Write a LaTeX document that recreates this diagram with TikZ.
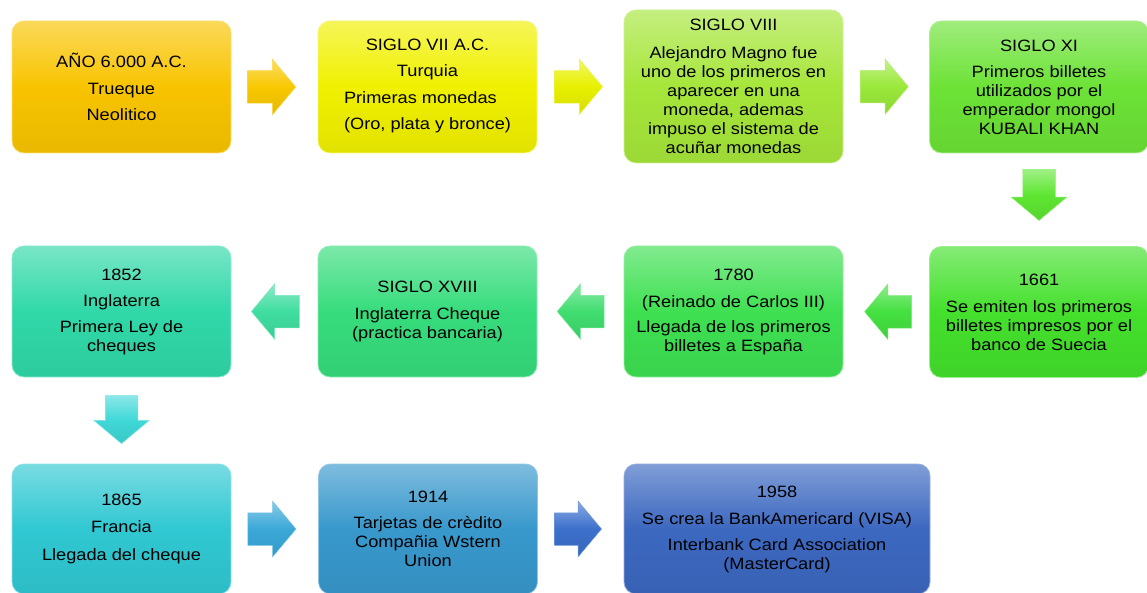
\documentclass[tikz,border=0pt]{standalone}
\usepackage{fontspec}
\setmainfont{Liberation Sans}[FakeStretch=1.11]
\usetikzlibrary{shapes.arrows,calc}
\definecolor{c1}{HTML}{F8C400}
\definecolor{c2}{HTML}{F0F000}
\definecolor{c3}{HTML}{A6E63A}
\definecolor{c4}{HTML}{6CE236}
\definecolor{c5}{HTML}{44E02C}
\definecolor{c6}{HTML}{3EE052}
\definecolor{c7}{HTML}{36DC7C}
\definecolor{c8}{HTML}{30D8A8}
\definecolor{c9}{HTML}{30C8D2}
\definecolor{c10}{HTML}{3898CC}
\definecolor{c11}{HTML}{3C68C0}
\definecolor{a1}{HTML}{F8C800}
\definecolor{a2}{HTML}{E8F000}
\definecolor{a3}{HTML}{9AE83A}
\definecolor{a4}{HTML}{5EE632}
\definecolor{a5}{HTML}{44E040}
\definecolor{a6}{HTML}{40DD70}
\definecolor{a7}{HTML}{40DDA0}
\definecolor{a8}{HTML}{40D8D8}
\definecolor{a9}{HTML}{3AA8D8}
\definecolor{a10}{HTML}{3C70CC}
\tikzset{
  box/.style={rounded corners=12pt, minimum width=219pt, minimum height=132pt,
    inner sep=0pt, align=center, font=\fontsize{16.4}{19}\selectfont, text=black,
    top color=#1!65!white, bottom color=#1!94!black, middle color=#1,
    draw=#1!55!white, line width=0.8pt},
  barrow/.style={single arrow, single arrow head extend=11.5pt, minimum height=48pt,
    minimum width=55pt, single arrow tip angle=100, inner xsep=0pt, inner ysep=16pt,
    top color=#1!60!white, bottom color=#1!92!black, middle color=#1,
    draw=#1!70!white, line width=0.5pt},
  varrow/.style={barrow=#1, shape border rotate=270, inner xsep=16pt, inner ysep=0pt},
}
\begin{document}
\begin{tikzpicture}[x=1pt,y=-1pt]
\useasboundingbox (0,0) rectangle (1147,593);
\clip (0,0) rectangle (1147,593);
% row 1
\node[box=c1] (b1) at (121.5,87) {AÑO 6.000 A.C.\\[7.5pt]Trueque\\[7.5pt]Neolitico};
\node[box=c2] (b2) at (427.5,87) {SIGLO VII A.C.\\[7.5pt]Turquia\\[7.5pt]\begin{tabular}[t]{@{}l@{}}Primeras monedas\\[7.5pt](Oro, plata y bronce)\end{tabular}};
\node[box=c3, minimum height=153pt] (b3) at (733.5,86.5) {SIGLO VIII\\[9pt]Alejandro Magno fue\\uno de los primeros en\\aparecer en una\\moneda, ademas\\impuso el sistema de\\acuñar monedas};
\node[box=c4] (b4) at (1039,87) {SIGLO XI\\[7pt]Primeros billetes\\utilizados por el\\emperador mongol\\KUBALI KHAN};
% row 2
\node[box=c5, minimum height=131pt] (b5) at (1039,312) {1661\\[8pt]Se emiten los primeros\\billetes impresos por el\\banco de Suecia};
\node[box=c6, minimum height=131pt] (b6) at (733.5,311.5) {1780\\[8pt](Reinado de Carlos III)\\[6pt]Llegada de los primeros\\billetes a España};
\node[box=c7, minimum height=131pt] (b7) at (427.5,311.5) {SIGLO XVIII\\[8pt]Inglaterra Cheque\\(practica bancaria)};
\node[box=c8, minimum height=131pt] (b8) at (121.5,311.5) {1852\\[7pt]Inglaterra\\[7pt]Primera Ley de\\cheques};
% row 3
\node[box=c9, minimum height=130pt] (b9) at (121.5,529) {1865\\[8pt]Francia\\[9pt]Llegada del cheque};
\node[box=c10, minimum height=130pt] (b10) at (428,529) {1914\\[7pt]Tarjetas de crèdito\\Compañia Wstern\\Union};
\node[box=c11, minimum height=130pt, minimum width=306pt] (b11) at (777,529) {1958\\[8pt]Se crea la BankAmericard (VISA)\\[7pt]Interbank Card Association\\(MasterCard)};
% arrows
\node[barrow=a1] (r1) at ($(b1.east)!0.47!(b2.west)+(-7,0)$) {};
\node[barrow=a2] (r2) at ($(b2.east)!0.48!(b3.west)+(-7,0)$) {};
\node[barrow=a3] (r3) at ($(b3.east)!0.48!(b4.west)+(-7,0)$) {};
\node[varrow=a4, minimum height=51pt] (d1) at ($(b4.south)!0.45!(b5.north)+(0,-7)$) {};
\node[barrow=a5, shape border rotate=180, minimum height=47pt] (l1) at ($(b5.west)!0.48!(b6.east)+(7,0)$) {};
\node[barrow=a6, shape border rotate=180, minimum height=47pt] (l2) at ($(b6.west)!0.5!(b7.east)+(7,0)$) {};
\node[barrow=a7, shape border rotate=180] (l3) at ($(b7.west)!0.48!(b8.east)+(6,0)$) {};
\node[varrow=a8, minimum width=54pt] (d2) at ($(b8.south)!0.48!(b9.north)+(0,-6)$) {};
\node[barrow=a9] (r4) at ($(b9.east)!0.47!(b10.west)+(-7,0)$) {};
\node[barrow=a10, minimum height=47pt] (r5) at ($(b10.east)!0.47!(b11.west)+(-7,0)$) {};
\end{tikzpicture}
\end{document}
